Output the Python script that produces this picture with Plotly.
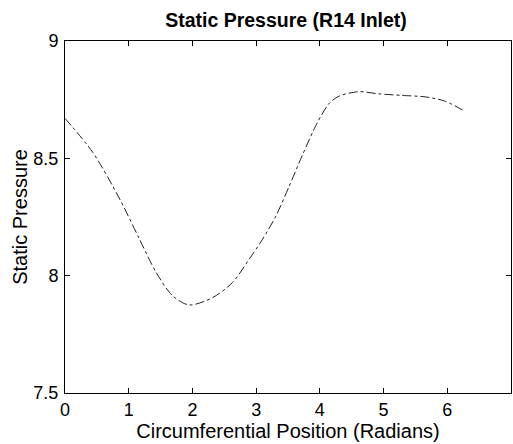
import plotly.graph_objects as go

# Circumferential position (radians) and static pressure
position = [0.0, 0.44, 0.86, 1.17, 1.43, 1.69, 1.95, 2.32, 2.63, 2.89, 3.10, 3.31, 3.52, 3.72, 3.96, 4.15, 4.30, 4.61, 4.92, 5.29, 5.65, 5.96, 6.28]
pressure = [8.67, 8.524, 8.326, 8.155, 8.014, 7.914, 7.875, 7.907, 7.971, 8.07, 8.155, 8.254, 8.382, 8.51, 8.652, 8.735, 8.765, 8.784, 8.775, 8.768, 8.762, 8.744, 8.70]

x_ticks = [0, 1, 2, 3, 4, 5, 6, 7]
y_ticks = [7.5, 8, 8.5, 9]

FONT = "Liberation Sans, Arial, Helvetica, sans-serif"

fig = go.Figure()
fig.add_trace(go.Scatter(
    x=position, y=pressure, mode="lines",
    line=dict(color="#222222", width=1, dash="dashdot", shape="spline", smoothing=0.8),
    showlegend=False, hoverinfo="skip",
))

fig.update_layout(
    width=513, height=444,
    margin=dict(l=65, r=2, t=41, b=51),
    paper_bgcolor="white", plot_bgcolor="white",
    font=dict(family=FONT, size=18, color="black"),
    title=dict(text="<b>Static Pressure (R14 Inlet)</b>", x=0.5575, xanchor="center",
               y=0.955, yanchor="middle", font=dict(family=FONT, size=19.5, color="black")),
)
fig.update_xaxes(
    range=[0, 7], tickvals=x_ticks, ticktext=[str(v) for v in x_ticks],
    showgrid=False, zeroline=False, showline=True, linecolor="black", linewidth=1,
    mirror="ticks", ticks="inside", ticklen=5, tickcolor="black",
    ticklabelstandoff=0,
    title=dict(text="Circumferential Position (Radians)", standoff=0, font=dict(size=20)),
    tickfont=dict(size=18),
)
fig.update_yaxes(
    range=[7.5, 9], tickvals=y_ticks, ticktext=["7.5", "8", "8.5", "9"],
    showgrid=False, zeroline=False, showline=True, linecolor="black", linewidth=1,
    mirror="ticks", ticks="inside", ticklen=5, tickcolor="black",
    ticklabelstandoff=2,
    title=dict(text="Static Pressure", standoff=0, font=dict(size=20)),
    tickfont=dict(size=18),
)

fig.write_html("out.html")
